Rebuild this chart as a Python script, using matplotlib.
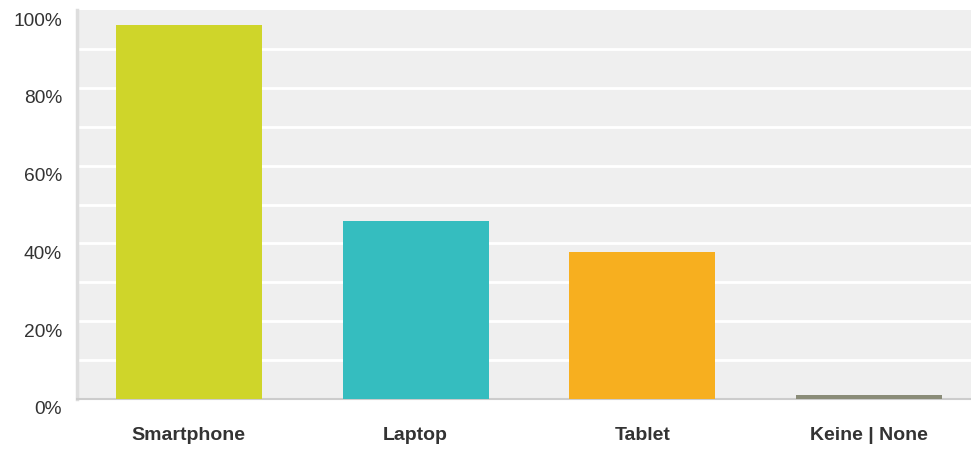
import numpy as np
import matplotlib
matplotlib.use("Agg")
import matplotlib.pyplot as plt
import matplotlib.transforms as mtransforms
from matplotlib.ticker import FuncFormatter

plt.rcParams['font.family'] = ['Liberation Sans', 'DejaVu Sans']

# data
categories = ["Smartphone", "Laptop", "Tablet", "Keine | None"]
shares = [96.1, 45.7, 37.7, 1.1]
bar_colors = ["#cfd52a", "#35bdbf", "#f7af1f", "#8a8c78"]
y_labels = [0, 20, 40, 60, 80, 100]

fig = plt.figure(figsize=(9.71, 4.5), dpi=100)
ax = fig.add_axes([77 / 971, 1 - 399 / 450, (971 - 77) / 971, 389 / 450])
ax.set_facecolor("#efefef")

x = np.arange(len(categories))
ax.bar(x, shares, width=0.643, color=bar_colors, zorder=3)

ax.set_xlim(-0.493, 3.449)
ax.set_ylim(0, 100)

# white grid every 10%
for v in range(10, 100, 10):
    ax.axhline(v, color="white", lw=2, zorder=1)

ax.set_xticks(x)
ax.set_xticklabels(categories, fontsize=14, fontweight="bold", color="#333333")
ax.set_yticks(y_labels)
ax.yaxis.set_major_formatter(FuncFormatter(lambda v, p: f"{int(v)}%"))
ax.tick_params(axis="y", length=0, pad=10.8, labelsize=13.8, labelcolor="#333333")
ax.tick_params(axis="x", length=0, pad=20)

for s in ["top", "right"]:
    ax.spines[s].set_visible(False)
ax.spines["left"].set_color("#dddddd")
ax.spines["left"].set_linewidth(2.5)
ax.spines["bottom"].set_color("#cccccc")
ax.spines["bottom"].set_linewidth(1.5)

# shift y labels down a bit, like the original
offset = mtransforms.ScaledTranslation(0, -9 / 100, fig.dpi_scale_trans)
for lab in ax.get_yticklabels():
    lab.set_transform(lab.get_transform() + offset)

fig.savefig("out.png", dpi=100)
